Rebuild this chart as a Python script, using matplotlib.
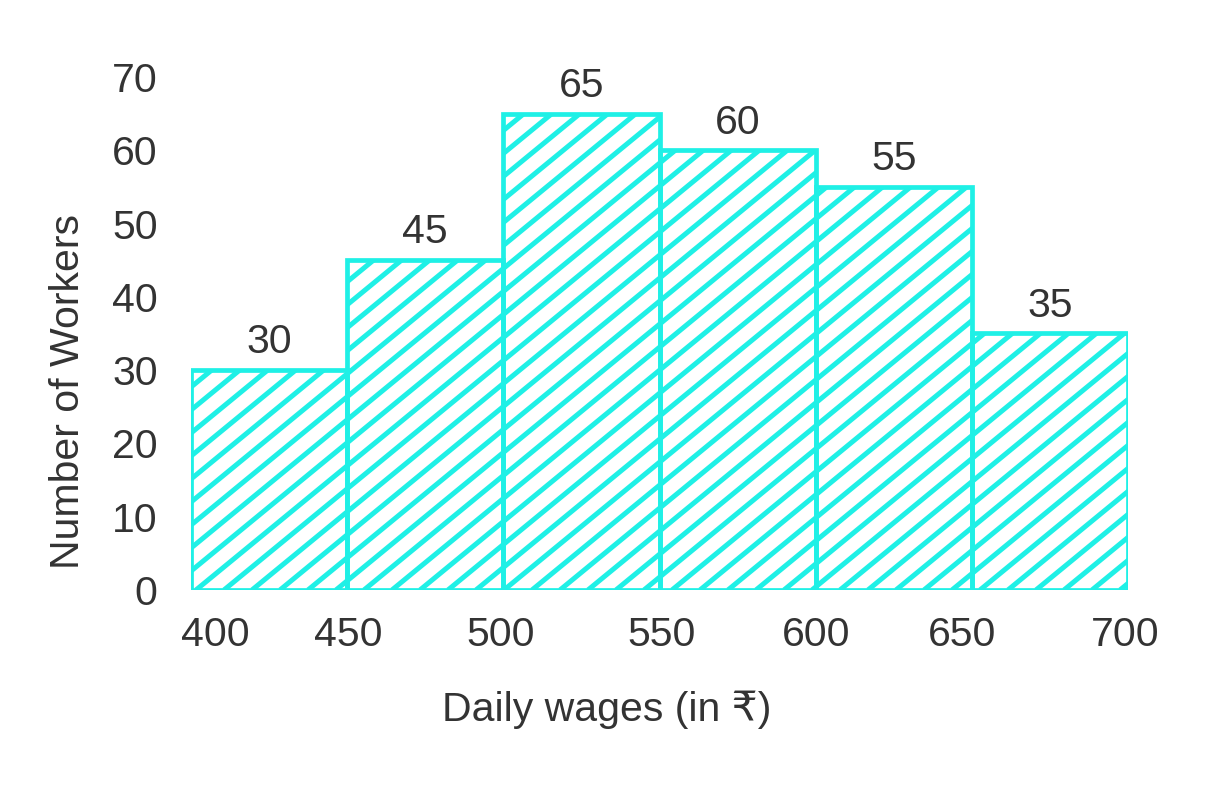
import numpy as np
import matplotlib.pyplot as plt
import matplotlib.transforms as mtransforms
from matplotlib.lines import Line2D

# daily wage classes and number of workers
bin_edges = [400, 450, 500, 550, 600, 650, 700]
workers = [30, 45, 65, 60, 55, 35]
y_ticks = [0, 10, 20, 30, 40, 50, 60, 70]

cyan = "#1ff0e6"
text_col = "#333333"
fs = 29.5

plt.rcParams['font.family'] = ['Liberation Sans', 'DejaVu Sans']

fig = plt.figure(figsize=(12.19, 7.9), dpi=100)
ax = fig.add_axes([0.1567, 0.2532, 0.7687, 0.6493])

lefts = bin_edges[:-1]
widths = [b - a for a, b in zip(bin_edges[:-1], bin_edges[1:])]

ax.set_xlim(bin_edges[0], bin_edges[-1])
ax.set_ylim(0, 70)

bars = ax.bar(lefts, workers, width=widths, align='edge', color='white',
              edgecolor=cyan, linewidth=3.4, zorder=3, fill=False)
ax.bar(lefts, workers, width=widths, align='edge', color='white',
       linewidth=0, zorder=1)

# diagonal hatching drawn as clipped lines (pixel spacing like the original)
step_x, step_y = 28.0, 23.0   # px between lines along horizontal / vertical
slope = step_y / step_x
for bar in bars:
    (x0, y0), (x1, y1) = ax.transData.transform(
        [(bar.get_x(), 0), (bar.get_x() + bar.get_width(), bar.get_height())])
    c_start = np.floor((x0 - (y1 - y0) / slope) / step_x) * step_x
    for c in np.arange(c_start, x1 + step_x, step_x):
        xs = [c, c + (y1 - y0 + 10) / slope]
        ys = [y0, y0 + (xs[1] - c) * slope]
        ln = Line2D(xs, ys, transform=None, color=cyan, linewidth=3.6,
                    zorder=2, solid_capstyle='butt')
        ax.add_artist(ln)
        ln.set_clip_path(bar)

# value labels above each bar
for left, w, h in zip(lefts, widths, workers):
    ax.text(left + w / 2, h + 1.2, str(h), ha='center', va='bottom',
            fontsize=fs, color=text_col)

ax.set_xticks(bin_edges)
ax.set_yticks(y_ticks)
ax.tick_params(length=0, labelsize=fs, labelcolor=text_col)
ax.tick_params(axis='x', pad=19)
ax.tick_params(axis='y', pad=24)
for s in ax.spines.values():
    s.set_visible(False)

# the original places a few x labels slightly off their edge
label_shift_px = [24, 1, -3, 2, 0, -10, -3]
for lab, dx in zip(ax.get_xticklabels(), label_shift_px):
    lab.set_transform(lab.get_transform() +
                      mtransforms.ScaledTranslation(dx / 100, 0, fig.dpi_scale_trans))

fig.text(0.498, 0.102, "Daily wages (in ₹)", ha='center', va='center',
         fontsize=fs, color=text_col)
fig.text(0.0555, 0.505, "Number of Workers", ha='center', va='center',
         rotation=90, fontsize=fs, color=text_col)

fig.savefig("out.png", dpi=100)
